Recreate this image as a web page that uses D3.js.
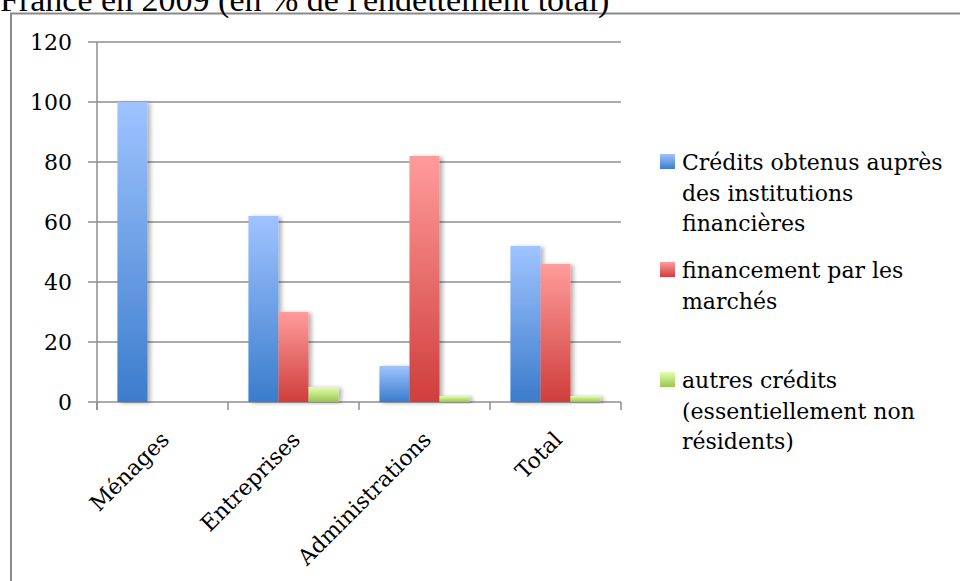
<!DOCTYPE html>
<html>
<head>
<meta charset="utf-8">
<script src="https://cdn.jsdelivr.net/npm/d3@7"></script>
<style>
  body { margin: 0; background: #fff; overflow: hidden; }
  svg { display: block; }
</style>
</head>
<body>
<script>
// values
const categories = ['Ménages', 'Entreprises', 'Administrations', 'Total']
const seriesKeys = ['credits', 'marches', 'autres']
const credits = [100, 62, 12, 52]
const marches = [0, 30, 82, 46]
const autres = [0, 5, 2, 2]
const yTicks = [0, 20, 40, 60, 80, 100, 120]
const legendLines = [
  ['Crédits obtenus auprès', 'des institutions', 'financières'],
  ['financement par les', 'marchés'],
  ['autres crédits', '(essentiellement non', 'résidents)']
]
const titleText = "France en 2009 (en % de l'endettement total)"

const grads = {
  credits: ['#9fc4ff', '#3b7ccc'],
  marches: ['#ff9c9b', '#cf3e3b'],
  autres: ['#e2ffab', '#9bc552']
}

const W = 960, H = 581
const plot = { left: 97, right: 621, top: 42, bottom: 402 }
const FONT = '"DejaVu Serif", serif'

let svg, x0, x1, y

function createSVG() {
  svg = d3.select('body').append('svg').attr('width', W).attr('height', H)
  const defs = svg.append('defs')
  seriesKeys.forEach(k => {
    const g = defs.append('linearGradient').attr('id', 'g-' + k)
      .attr('x1', 0).attr('y1', 0).attr('x2', 0).attr('y2', 1)
    g.append('stop').attr('offset', '0%').attr('stop-color', grads[k][0])
    g.append('stop').attr('offset', '100%').attr('stop-color', grads[k][1])
  })
  const f = defs.append('filter').attr('id', 'shadow')
    .attr('x', '-20%').attr('y', '-20%').attr('width', '160%').attr('height', '140%')
  f.append('feDropShadow').attr('dx', 3).attr('dy', 1).attr('stdDeviation', 2)
    .attr('flood-color', '#000').attr('flood-opacity', 0.3)
}

function createFrame() {
  svg.append('rect')
    .attr('x', 11).attr('y', 13.5)
    .attr('width', W + 20).attr('height', H + 20)
    .attr('fill', 'none').attr('stroke', '#8a8a8a').attr('stroke-width', 2)

  svg.append('text')
    .attr('x', 0).attr('y', 11)
    .attr('font-family', '"Liberation Serif", serif')
    .attr('font-size', 34)
    .attr('fill', '#000')
    .text(titleText)
}

function createScales() {
  x0 = d3.scaleBand().domain(categories).range([plot.left, plot.right]).padding(0)
  x1 = d3.scaleBand().domain(seriesKeys).range([0, x0.bandwidth()])
    .paddingInner(0).paddingOuter(0.68)
  y = d3.scaleLinear().domain([0, 120]).range([plot.bottom, plot.top])
}

function createGrid() {
  const g = svg.append('g')
  g.selectAll('line.grid').data(yTicks).enter().append('line')
    .attr('class', 'grid')
    .attr('x1', plot.left - 9).attr('x2', plot.right)
    .attr('y1', d => y(d)).attr('y2', d => y(d))
    .attr('stroke', '#8f8f8f').attr('stroke-width', 1.5)

  g.selectAll('text.ytick').data(yTicks).enter().append('text')
    .attr('class', 'ytick')
    .attr('x', 72).attr('y', d => y(d) + 8)
    .attr('text-anchor', 'end')
    .attr('font-family', FONT).attr('font-size', 22)
    .text(d => d)

  // axis lines
  g.append('line')
    .attr('x1', plot.left).attr('x2', plot.left)
    .attr('y1', plot.top).attr('y2', plot.bottom + 8)
    .attr('stroke', '#8f8f8f').attr('stroke-width', 1.5)

  const bounds = [plot.left].concat(categories.map(c => x0(c) + x0.bandwidth()))
  g.selectAll('line.xtick').data(bounds).enter().append('line')
    .attr('class', 'xtick')
    .attr('x1', d => d).attr('x2', d => d)
    .attr('y1', plot.bottom).attr('y2', plot.bottom + 8)
    .attr('stroke', '#8f8f8f').attr('stroke-width', 1.5)
}

function createBars() {
  const values = { credits: credits, marches: marches, autres: autres }
  const rows = []
  categories.forEach((c, i) => {
    seriesKeys.forEach(k => {
      if (values[k][i] > 0) rows.push({ cat: c, key: k, v: values[k][i] })
    })
  })
  svg.append('g').selectAll('rect').data(rows).enter().append('rect')
    .attr('x', d => x0(d.cat) + x1(d.key))
    .attr('y', d => y(d.v))
    .attr('width', x1.bandwidth())
    .attr('height', d => y(0) - y(d.v))
    .attr('fill', d => 'url(#g-' + d.key + ')')
    .attr('filter', 'url(#shadow)')
}

function createXLabels() {
  svg.append('g').selectAll('text').data(categories).enter().append('text')
    .attr('transform', d => {
      const cx = x0(d) + x0.bandwidth() / 2 + 8
      return 'translate(' + cx + ',' + 441 + ') rotate(-45)'
    })
    .attr('text-anchor', 'end')
    .attr('font-family', FONT).attr('font-size', 22)
    .text(d => d)
}

function createLegend() {
  const tops = [154, 262, 372]
  const g = svg.append('g')
  seriesKeys.forEach((k, i) => {
    g.append('rect')
      .attr('x', 660).attr('y', tops[i])
      .attr('width', 15).attr('height', 15)
      .attr('fill', 'url(#g-' + k + ')')
    const t = g.append('text')
      .attr('font-family', FONT).attr('font-size', 22)
    legendLines[i].forEach((line, j) => {
      t.append('tspan').attr('x', 682).attr('y', tops[i] + 16 + j * 30.5).text(line)
    })
  })
}

createSVG()
createScales()
createGrid()
createBars()
createXLabels()
createLegend()
createFrame()
</script>
</body>
</html>
